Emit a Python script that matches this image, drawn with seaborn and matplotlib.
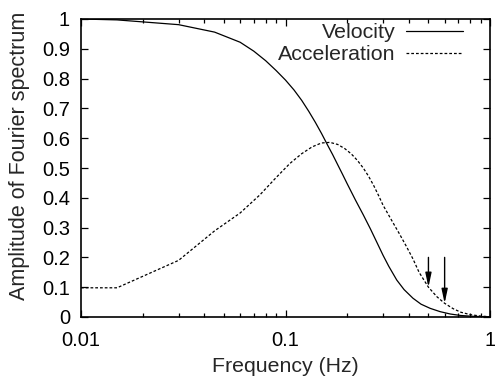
import numpy as np
import pandas as pd
import matplotlib
matplotlib.use("Agg")
import matplotlib.pyplot as plt
import seaborn as sns

# Normalised Fourier amplitude spectra
vel_freq = [0.01, 0.015, 0.03, 0.045, 0.06, 0.07, 0.08, 0.09, 0.10, 0.11,
            0.12, 0.13, 0.14, 0.15, 0.16, 0.17, 0.18, 0.19, 0.20, 0.22,
            0.24, 0.26, 0.28, 0.30, 0.32, 0.35, 0.38, 0.42, 0.46, 0.51,
            0.57, 0.64, 0.72, 0.84, 1.0]
vel_amp = [1.0, 0.997, 0.981, 0.956, 0.922, 0.892, 0.860, 0.827, 0.795, 0.762,
           0.727, 0.690, 0.653, 0.616, 0.579, 0.545, 0.511, 0.479, 0.448, 0.392,
           0.343, 0.296, 0.250, 0.207, 0.170, 0.124, 0.092, 0.063, 0.043, 0.029,
           0.018, 0.010, 0.005, 0.002, 0.0005]

acc_freq = [0.01, 0.015, 0.03, 0.045, 0.06, 0.075, 0.09, 0.105, 0.12, 0.135,
            0.15, 0.165, 0.18, 0.195, 0.21, 0.225, 0.24, 0.255, 0.27, 0.285,
            0.30, 0.33, 0.36, 0.39, 0.42, 0.45, 0.50, 0.55, 0.60, 0.66,
            0.72, 0.80, 0.90, 1.0]
acc_amp = [0.098, 0.098, 0.19, 0.289, 0.349, 0.410, 0.468, 0.515, 0.548, 0.571,
           0.584, 0.586, 0.579, 0.565, 0.547, 0.525, 0.500, 0.472, 0.441, 0.408,
           0.375, 0.325, 0.280, 0.237, 0.195, 0.150, 0.100, 0.068, 0.046, 0.028,
           0.016, 0.008, 0.003, 0.001]

# Frequencies marked with arrows on the acceleration spectrum
arrow_freqs = [0.5, 0.6]
arrow_top = 0.2

x_ticks = [0.01, 0.1, 1]
x_tick_labels = ["0.01", "0.1", "1"]
y_ticks = [0, 0.1, 0.2, 0.3, 0.4, 0.5, 0.6, 0.7, 0.8, 0.9, 1]
y_tick_labels = ["0", "0.1", "0.2", "0.3", "0.4", "0.5", "0.6", "0.7", "0.8", "0.9", "1"]

sns.set_theme(style="ticks")
plt.rcParams["font.family"] = ["Liberation Sans", "DejaVu Sans"]

df = pd.concat([
    pd.DataFrame({"freq": vel_freq, "amp": vel_amp, "series": "Velocity"}),
    pd.DataFrame({"freq": acc_freq, "amp": acc_amp, "series": "Acceleration"}),
], ignore_index=True)

fig = plt.figure(figsize=(4.95, 3.81), dpi=100)
ax = fig.add_axes([81 / 495, 1 - 317 / 381, 409 / 495, 298 / 381])

sns.lineplot(data=df, x="freq", y="amp", hue="series", style="series",
             palette={"Velocity": "black", "Acceleration": "black"},
             dashes={"Velocity": "", "Acceleration": (2.2, 1.6)},
             linewidth=0.9, sort=False, estimator=None, ax=ax, legend=True)

ax.set_xscale("log")
ax.set_xlim(0.01, 1)
ax.set_ylim(0, 1)
ax.set_xticks(x_ticks)
ax.set_xticklabels(x_tick_labels)
ax.set_yticks(y_ticks)
ax.set_yticklabels(y_tick_labels)
ax.xaxis.set_minor_locator(matplotlib.ticker.LogLocator(base=10, subs=np.arange(2, 10)))
ax.xaxis.set_minor_formatter(matplotlib.ticker.NullFormatter())

ax.tick_params(which="both", direction="in", top=True, right=True,
               labelsize=14.5, colors="black", width=0.9)
ax.tick_params(which="major", length=5)
ax.tick_params(which="minor", length=3)
ax.tick_params(axis="y", which="major", pad=8)
ax.tick_params(axis="x", which="major", pad=10)
for s in ax.spines.values():
    s.set_linewidth(1.2)
    s.set_color("black")

ax.set_xlabel("Frequency (Hz)", fontsize=15.3, labelpad=5)
ax.set_ylabel("Amplitude of Fourier spectrum", fontsize=15.5)
ax.yaxis.set_label_coords(-0.125, 0.54)

# arrows pointing at the acceleration curve
lx = np.log10(acc_freq)
for f in arrow_freqs:
    tip = np.interp(np.log10(f), lx, acc_amp)
    ax.annotate("", xy=(f, tip), xytext=(f, arrow_top),
                arrowprops=dict(arrowstyle="-|>,head_length=0.7,head_width=0.15",
                                color="black", lw=1.0, shrinkA=0, shrinkB=0))

handles, labels = ax.get_legend_handles_labels()
ax.legend(handles, labels, loc="upper right", bbox_to_anchor=(0.934, 0.985),
          frameon=False, markerfirst=False, fontsize=15.4, handlelength=2.65,
          handletextpad=0.52, labelspacing=0.12, borderaxespad=0, borderpad=0)

fig.savefig("out.png", dpi=100)
